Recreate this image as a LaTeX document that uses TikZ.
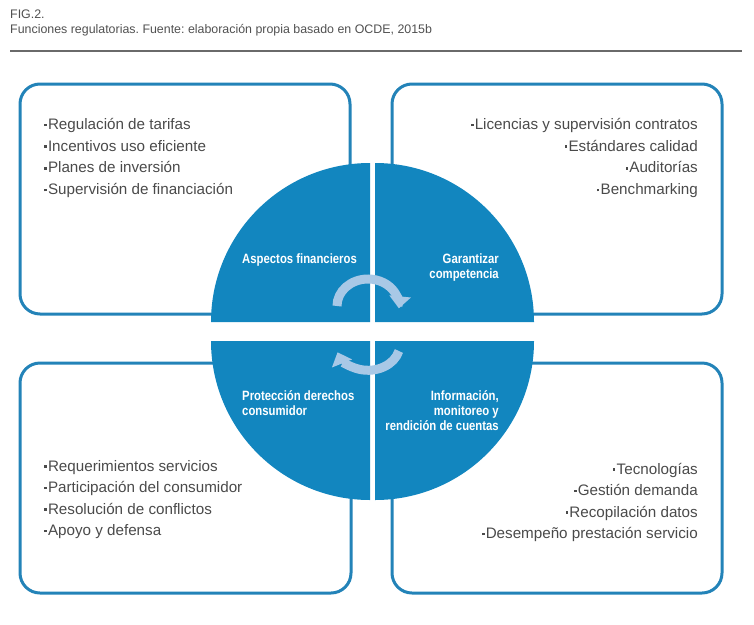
\documentclass[tikz,border=0pt]{standalone}
\usepackage{fontspec}
\setmainfont{Liberation Sans}
\newfontfamily\condfont[FakeStretch=0.84]{Liberation Sans}
\usetikzlibrary{arrows.meta}
\definecolor{circblue}{HTML}{1286BF}
\definecolor{boxblue}{HTML}{2383B8}
\definecolor{arrowblue}{HTML}{A8C8E6}
\definecolor{txtgray}{HTML}{4A4A4A}
\definecolor{titlegray}{HTML}{505050}
\definecolor{rulegray}{HTML}{6A6A6A}
\newcommand\mybul{\raisebox{0.22em}{\rule{2.6pt}{2.6pt}}\hspace{1.2pt}}
\frenchspacing
\begin{document}
\begin{tikzpicture}[x=1pt,y=-1pt,
  roundbox/.style={draw=boxblue, line width=3pt, rounded corners=20pt},
  quad/.style={fill=circblue},
  ttl/.style={anchor=base west, inner sep=0pt, text=titlegray, font=\fontsize{12.4}{14}\selectfont},
  listL/.style={anchor=base west, inner sep=0pt, text=txtgray, font=\fontsize{15.2}{18}\selectfont},
  listR/.style={listL, anchor=base east},
  lab/.style={anchor=base west, inner sep=0pt, text=white, font=\condfont\bfseries\fontsize{13.5}{15}\selectfont},
  labR/.style={lab, anchor=base east},
  cyc/.style={draw=arrowblue, line width=9pt, -{Triangle[width=21pt,length=12pt]}},
]
\useasboundingbox (0,0) rectangle (754,624);

% title
\node[ttl] (fig) at (10,18) {FIG.2.};
\node[ttl] (cap) at (10,33.5) {Funciones regulatorias. Fuente: elaboración propia basado en OCDE, 2015b};
\coordinate (ruleA) at (10,51);
\coordinate (ruleB) at (742,51);
\draw[rulegray, line width=1.5pt] (ruleA) -- (ruleB);

% boxes
\draw[roundbox] (20,84) rectangle (350,314);
\draw[roundbox] (392,84) rectangle (722,314);
\draw[roundbox] (20,363) rectangle (351,593);
\draw[roundbox] (392,363) rectangle (722,593);

% circle quadrants
\fill[quad] (370,322) -- (211,322) arc[start angle=180, end angle=270, radius=159] -- cycle;
\fill[quad] (375,322) -- (375,163) arc[start angle=270, end angle=360, radius=159] -- cycle;
\fill[quad] (375,341) -- (534,341) arc[start angle=0, end angle=90, radius=159] -- cycle;
\fill[quad] (370,341) -- (370,500) arc[start angle=90, end angle=180, radius=159] -- cycle;

% cycle arrows
\draw[cyc] (337,306) arc[start angle=180, end angle=365, x radius=31, y radius=27];
\draw[cyc] (398.9,351) arc[start angle=15, end angle=162, x radius=32, y radius=26];

% circle labels
\node[lab] (af) at (242,263.3) {Aspectos financieros};
\node[labR] (gc1) at (499,263) {Garantizar};
\node[labR] (gc2) at (499,278) {competencia};
\node[lab] (pd1) at (242,400.7) {Protección derechos};
\node[lab] (pd2) at (242,415.7) {consumidor};
\node[labR] (im1) at (499,400.7) {Información,};
\node[labR] (im2) at (499,415.5) {monitoreo y};
\node[labR] (im3) at (499,430.3) {rendición de cuentas};

% top-left list
\node[listL] (tl1) at (44,129.5) {\mybul Regulación de tarifas};
\node[listL] (tl2) at (44,151.2) {\mybul Incentivos uso eficiente};
\node[listL] (tl3) at (44,172.9) {\mybul Planes de inversión};
\node[listL] (tl4) at (44,194.6) {\mybul Supervisión de financiación};

% top-right list
\node[listR] (tr1) at (698,129.5) {\mybul Licencias y supervisión contratos};
\node[listR] (tr2) at (698,151.2) {\mybul Estándares calidad};
\node[listR] (tr3) at (698,172.9) {\mybul Auditorías};
\node[listR] (tr4) at (698,194.6) {\mybul Benchmarking};

% bottom-left list
\node[listL] (bl1) at (44,471) {\mybul Requerimientos servicios};
\node[listL] (bl2) at (44,492.5) {\mybul Participación del consumidor};
\node[listL] (bl3) at (44,514) {\mybul Resolución de conflictos};
\node[listL] (bl4) at (44,535.5) {\mybul Apoyo y defensa};

% bottom-right list
\node[listR] (br1) at (698,474) {\mybul Tecnologías};
\node[listR] (br2) at (698,495.5) {\mybul Gestión demanda};
\node[listR] (br3) at (698,517) {\mybul Recopilación datos};
\node[listR] (br4) at (698,538.5) {\mybul Desempeño prestación servicio};
\end{tikzpicture}
\end{document}
